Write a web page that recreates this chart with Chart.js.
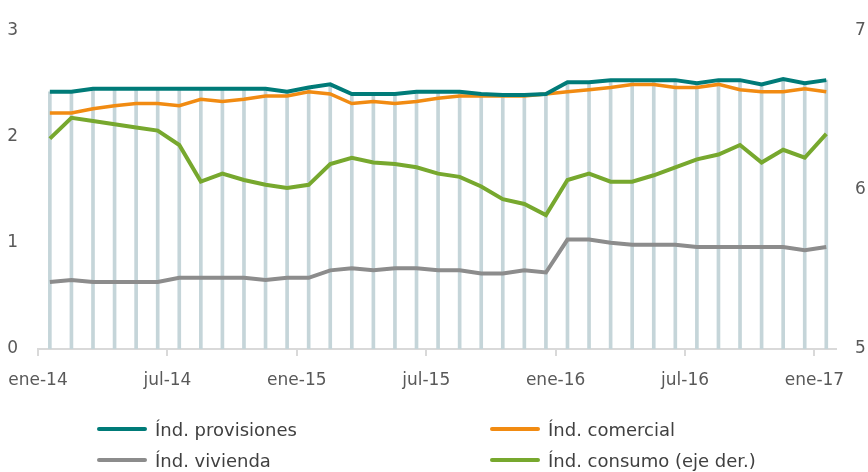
<!DOCTYPE html>
<html lang="es">
<head>
  <meta charset="UTF-8">
  <title>Índices de morosidad</title>
  <script src="https://cdn.jsdelivr.net/npm/chart.js"></script>
  <style>
    body { margin: 0; background: #fff; font-family: "DejaVu Sans", sans-serif; }
    #wrap { position: relative; width: 868px; height: 472px; }
    canvas { position: absolute; left: 0; top: 0; }
    .item { position: absolute; height: 24px; display: flex; align-items: center; font-size: 18px; color: #404040; white-space: nowrap; }
    .swatch { display: inline-block; width: 50px; height: 4px; border-radius: 2px; margin-right: 8px; }
  </style>
</head>
<body>

<div id="wrap">
  <canvas id="chart" width="868" height="472"></canvas>
  <div class="item" style="left:97px; top:417px;"><span class="swatch" style="background:#007b78"></span>Índ. provisiones</div>
  <div class="item" style="left:490px; top:417px;"><span class="swatch" style="background:#f18b12"></span>Índ. comercial</div>
  <div class="item" style="left:97px; top:448px;"><span class="swatch" style="background:#8c8c8c"></span>Índ. vivienda</div>
  <div class="item" style="left:490px; top:448px;"><span class="swatch" style="background:#77a82e"></span>Índ. consumo (eje der.)</div>
</div>

<script>
// months (ene-14 .. ene-17)
const months = [
  'ene-14','feb-14','mar-14','abr-14','may-14','jun-14','jul-14','ago-14','sep-14','oct-14','nov-14','dic-14',
  'ene-15','feb-15','mar-15','abr-15','may-15','jun-15','jul-15','ago-15','sep-15','oct-15','nov-15','dic-15',
  'ene-16','feb-16','mar-16','abr-16','may-16','jun-16','jul-16','ago-16','sep-16','oct-16','nov-16','dic-16',
  'ene-17'
];
const tickMonths = [0, 6, 12, 18, 24, 30, 36];

// left axis (%)
const provisiones = [2.42,2.42,2.45,2.45,2.45,2.45,2.45,2.45,2.45,2.45,2.45,2.42,
                     2.46,2.49,2.40,2.40,2.40,2.42,2.42,2.42,2.40,2.39,2.39,2.40,
                     2.51,2.51,2.53,2.53,2.53,2.53,2.50,2.53,2.53,2.49,2.54,2.50,2.53];
const comercial   = [2.22,2.22,2.26,2.29,2.31,2.31,2.29,2.35,2.33,2.35,2.38,2.38,
                     2.42,2.40,2.31,2.33,2.31,2.33,2.36,2.38,2.38,2.38,2.38,2.40,
                     2.42,2.44,2.46,2.49,2.49,2.46,2.46,2.49,2.44,2.42,2.42,2.45,2.42];
const vivienda    = [0.63,0.65,0.63,0.63,0.63,0.63,0.67,0.67,0.67,0.67,0.65,0.67,
                     0.67,0.74,0.76,0.74,0.76,0.76,0.74,0.74,0.71,0.71,0.74,0.72,
                     1.03,1.03,1.00,0.98,0.98,0.98,0.96,0.96,0.96,0.96,0.96,0.93,0.96];
// right axis (%)
const consumo     = [6.32,6.45,6.43,6.41,6.39,6.37,6.28,6.05,6.10,6.06,6.03,6.01,
                     6.03,6.16,6.20,6.17,6.16,6.14,6.10,6.08,6.02,5.94,5.91,5.84,
                     6.06,6.10,6.05,6.05,6.09,6.14,6.19,6.22,6.28,6.17,6.25,6.20,6.35];

const leftTicks = [0, 1, 2, 3];
const rightTicks = [5, 6, 7];

// points sit a little after the month tick (Excel date axis)
const pointOffset = 0.55;
const pts = arr => arr.map((v, i) => ({ x: i + pointOffset, y: v }));

Chart.defaults.font.family = '"DejaVu Sans", sans-serif';
Chart.defaults.color = '#595959';

function lineSet(label, arr, color, axis, width) {
  return {
    type: 'line',
    label: label,
    data: pts(arr),
    borderColor: color,
    backgroundColor: color,
    borderWidth: width,
    pointRadius: 0,
    tension: 0,
    fill: false,
    yAxisID: axis,
    order: 1
  };
}

const ctx = document.getElementById('chart').getContext('2d');

new Chart(ctx, {
  data: {
    datasets: [
      lineSet('Índ. provisiones', provisiones, '#007b78', 'y', 4),
      lineSet('Índ. comercial', comercial, '#f18b12', 'y', 3.5),
      lineSet('Índ. vivienda', vivienda, '#8c8c8c', 'y', 4),
      lineSet('Índ. consumo (eje der.)', consumo, '#77a82e', 'y2', 4),
      {
        // drop lines from the top series down to the axis
        type: 'bar',
        label: 'drop',
        data: pts(provisiones),
        backgroundColor: '#c5d5d9',
        barThickness: 3,
        yAxisID: 'y',
        order: 10
      }
    ]
  },
  options: {
    responsive: false,
    animation: false,
    layout: { padding: { top: 23, left: 0, right: 0, bottom: 0 } },
    plugins: {
      legend: { display: false },
      tooltip: { enabled: false }
    },
    scales: {
      x: {
        type: 'linear',
        min: 0,
        max: 37,
        offset: false,
        afterBuildTicks: axis => { axis.ticks = tickMonths.map(v => ({ value: v })); },
        afterFit: axis => {
          axis.height = 123;
          // labels may overhang, the side axes leave room for them
          axis.paddingLeft = 0;
          axis.paddingRight = 0;
        },
        ticks: {
          autoSkip: false,
          maxRotation: 0,
          padding: 14,
          font: { size: 17 },
          callback: v => months[v]
        },
        grid: {
          offset: false,
          drawOnChartArea: false,
          drawTicks: true,
          tickLength: 7,
          color: '#d9d9d9',
          lineWidth: 2
        },
        border: { display: true, color: '#d9d9d9', width: 2 }
      },
      y: {
        position: 'left',
        min: 0,
        max: 3,
        afterBuildTicks: axis => { axis.ticks = leftTicks.map(v => ({ value: v })); },
        afterFit: axis => { axis.width = 38; },
        ticks: { padding: 20, font: { size: 17 } },
        grid: { display: false, drawTicks: false },
        border: { display: false }
      },
      y2: {
        position: 'right',
        min: 5,
        max: 7,
        afterBuildTicks: axis => { axis.ticks = rightTicks.map(v => ({ value: v })); },
        afterFit: axis => { axis.width = 32; },
        ticks: { padding: 19, font: { size: 17 } },
        grid: { display: false, drawTicks: false },
        border: { display: false }
      }
    }
  }
});
</script>

</body>
</html>
